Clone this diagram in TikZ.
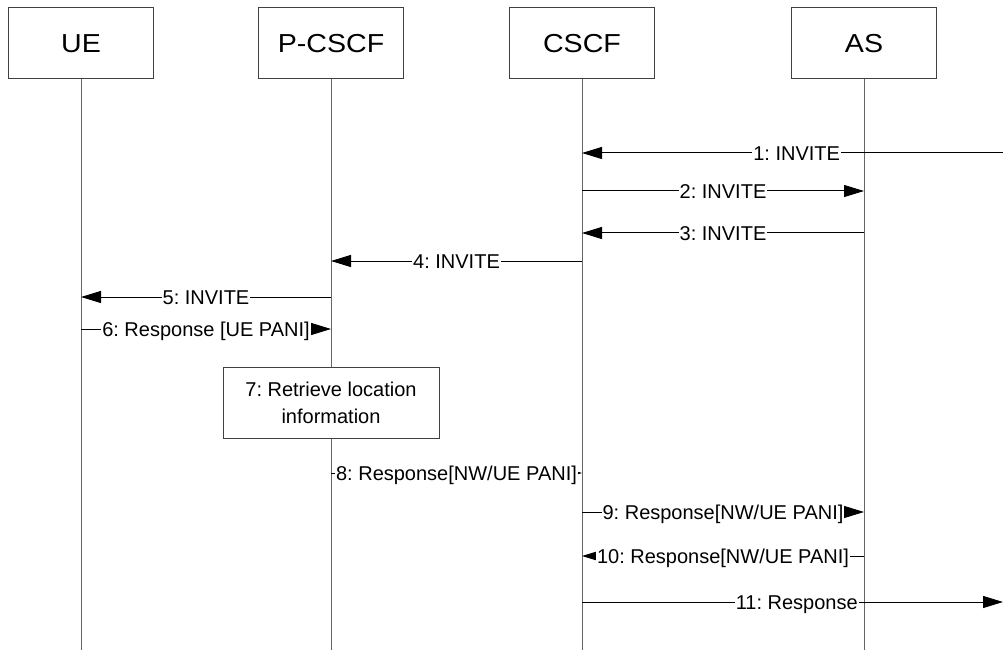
\documentclass[tikz,border=0pt]{standalone}
\usepackage{fontspec}
\setmainfont{Liberation Sans}
\usetikzlibrary{arrows.meta}
\frenchspacing

\tikzset{
  entity/.style={draw=black!75, line width=1pt, fill=white,
    minimum width=145pt, minimum height=71pt, inner sep=0pt,
    font=\fontsize{26}{30}\selectfont},
  lifeline/.style={draw=black!60, line width=1pt},
  msg/.style={draw=black, line width=1pt},
  msgarrow/.style={msg, -{Triangle[length=20pt,width=12pt]}},
  lbl/.style={fill=white, inner xsep=1pt, inner ysep=0pt,
    text height=14.3pt, text depth=0pt,
    font=\fontsize{20}{24}\selectfont},
  action/.style={draw=black!75, line width=1pt, fill=white,
    minimum width=216pt, minimum height=71pt, align=center,
    font=\fontsize{20}{27}\selectfont}
}

\begin{document}
\begin{tikzpicture}[x=1pt, y=-1pt]
\useasboundingbox (0,0) rectangle (1003,652);

% participants
\node[entity] (ue)    at (81,43.5)  {\scalebox{1.1}[1]{UE}};
\node[entity] (pcscf) at (331,43.5) {\scalebox{1.1}[1]{P-CSCF}};
\node[entity] (cscf)  at (582,43.5) {\scalebox{1.1}[1]{CSCF}};
\node[entity] (as)    at (864,43.5) {\scalebox{1.1}[1]{AS}};

% lifeline ends
\coordinate (ue-end)    at (81,650);
\coordinate (pcscf-end) at (331,650);
\coordinate (cscf-end)  at (582,650);
\coordinate (as-end)    at (864,650);

\draw[lifeline] (ue.south) -- (ue-end);
\draw[lifeline] (pcscf.south) -- (pcscf-end);
\draw[lifeline] (cscf.south) -- (cscf-end);
\draw[lifeline] (as.south) -- (as-end);

% message anchor points on the lifelines
\coordinate (ext1)   at (1003,153);
\coordinate (cscf1)  at (582,153);
\coordinate (cscf2)  at (582,191);
\coordinate (as2)    at (864,191);
\coordinate (as3)    at (864,233);
\coordinate (cscf3)  at (582,233);
\coordinate (cscf4)  at (582,261);
\coordinate (pcscf4) at (331,261);
\coordinate (pcscf5) at (331,297);
\coordinate (ue5)    at (81,297);
\coordinate (ue6)    at (81,329);
\coordinate (pcscf6) at (331,329);
\coordinate (pcscf8) at (331,473);
\coordinate (cscf8)  at (582,473);
\coordinate (cscf9)  at (582,512);
\coordinate (as9)    at (864,512);
\coordinate (as10)   at (864,556);
\coordinate (cscf10) at (582,556);
\coordinate (cscf11) at (582,602);
\coordinate (ext11)  at (1003,602);

% messages
\draw[msgarrow] (ext1) -- node[lbl, pos=0.49] {1: INVITE} (cscf1);
\draw[msgarrow] (cscf2) -- node[lbl] {2: INVITE} (as2);
\draw[msgarrow] (as3) -- node[lbl] {3: INVITE} (cscf3);
\draw[msgarrow] (cscf4) -- node[lbl] {4: INVITE} (pcscf4);
\draw[msgarrow] (pcscf5) -- node[lbl] {5: INVITE} (ue5);
\draw[msgarrow] (ue6) -- node[lbl] {6: Response [UE PANI]} (pcscf6);

% local action at the P-CSCF
\node[action] (retrieve) at (331,402.5) {7: Retrieve location\\information};

\draw[msgarrow] (pcscf8) -- node[lbl] {8: Response[NW/UE PANI]} (cscf8);
\draw[msgarrow] (cscf9) -- node[lbl] {9: Response[NW/UE PANI]} (as9);
\draw[msgarrow] (as10) -- node[lbl] {10: Response[NW/UE PANI]} (cscf10);
\draw[msgarrow] (cscf11) -- node[lbl, pos=0.51] {11: Response} (ext11);

\end{tikzpicture}
\end{document}
